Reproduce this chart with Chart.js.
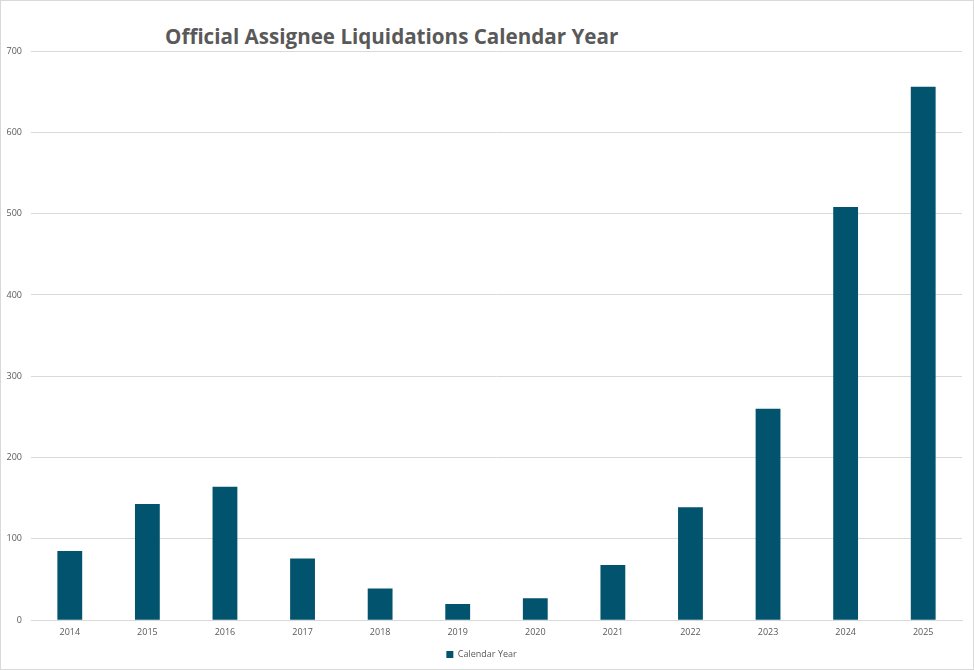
<!DOCTYPE html>
<html>
<head>
<meta charset="utf-8">
<script src="https://cdn.jsdelivr.net/npm/chart.js@4/dist/chart.umd.min.js"></script>
<style>
  html, body { margin: 0; padding: 0; background: #fff; }
  #wrap { position: relative; width: 972px; height: 668px; border: 1px solid #d9d9d9; }
  #title {
    position: absolute; left: 164px; top: 21px; margin: 0;
    font-family: "Open Sans", sans-serif; font-weight: bold; font-size: 20.6px;
    color: #595959; white-space: nowrap;
  }
  canvas { position: absolute; left: 0; top: 0; }
</style>
</head>
<body>
<div id="wrap">
  <div id="title">Official Assignee Liquidations Calendar Year</div>
  <canvas id="chart" width="972" height="668"></canvas>
</div>
<script>
// ================= DATA =================
const years = ["2014", "2015", "2016", "2017", "2018", "2019", "2020", "2021", "2022", "2023", "2024", "2025"];
const liquidations = [85, 143, 164, 76, 39, 20, 27, 68, 139, 260, 508, 656];
const seriesName = "Calendar Year";

const barColor = "#02536d";
const gridColor = "#d9d9d9";
const textColor = "#595959";

// ================= CHART =================
const ctx = document.getElementById("chart").getContext("2d");

new Chart(ctx, {
  type: "bar",
  data: {
    labels: years,
    datasets: [{
      label: seriesName,
      data: liquidations,
      backgroundColor: barColor,
      barPercentage: 0.32,
      categoryPercentage: 1
    }]
  },
  options: {
    responsive: false,
    animation: false,
    layout: { padding: { top: 50, right: 11, bottom: 0, left: 0 } },
    plugins: {
      title: { display: false },
      tooltip: { enabled: false },
      legend: {
        position: "bottom",
        labels: {
          color: textColor,
          font: { family: "Open Sans", size: 9 },
          boxWidth: 7,
          boxHeight: 7,
          padding: 5
        }
      }
    },
    scales: {
      x: {
        grid: { display: false, drawTicks: false },
        border: { color: gridColor },
        ticks: { color: textColor, font: { family: "Open Sans", size: 9 }, padding: 7 }
      },
      y: {
        min: 0,
        max: 700,
        ticks: { stepSize: 100, color: textColor, font: { family: "Open Sans", size: 9 }, padding: 9 },
        grid: { color: gridColor, drawTicks: false },
        border: { display: false },
        afterFit: scale => { scale.width = 30; }
      }
    }
  }
});
</script>
</body>
</html>
